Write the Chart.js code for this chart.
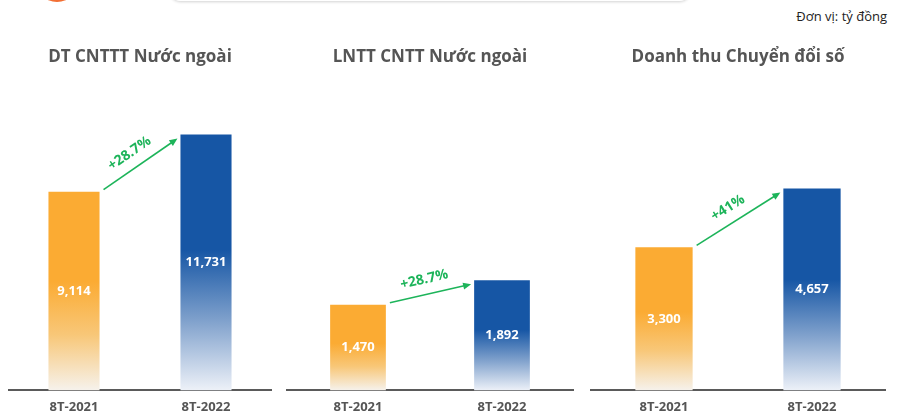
<!DOCTYPE html>
<html>
<head>
<meta charset="utf-8">
<script src="https://cdn.jsdelivr.net/npm/chart.js@4.4.0/dist/chart.umd.min.js"></script>
<style>
  body { margin: 0; background: #fff; width: 904px; height: 419px; overflow: hidden; position: relative; font-family: "Open Sans", sans-serif; }
  .panel { position: absolute; top: 0; height: 428px; }
  .unit { position: absolute; right: 17px; top: 7px; font-size: 13px; color: #222; }
  .dot { position: absolute; left: 35px; top: -42px; width: 44px; height: 44px; border-radius: 50%; background: #f26f34; }
  .card { position: absolute; left: 170px; top: -30px; width: 520px; height: 31px; border-radius: 10px; background: #fff; box-shadow: 0 1px 3px rgba(0,0,0,0.18); }
</style>
</head>
<body>
<div class="dot"></div>
<div class="card"></div>
<div class="unit">Đơn vị: tỷ đồng</div>
<div class="panel" style="left:8px;width:264px"><canvas id="c1"></canvas></div>
<div class="panel" style="left:286px;width:288px"><canvas id="c2"></canvas></div>
<div class="panel" style="left:590px;width:296px"><canvas id="c3"></canvas></div>
<script>
const categories = ['8T-2021', '8T-2022']
const titles = ['DT CNTTT Nước ngoài', 'LNTT CNTT Nước ngoài', 'Doanh thu Chuyển đổi số']
const revenueForeign = [9114, 11731]
const profitForeign = [1470, 1892]
const revenueDigital = [3300, 4657]
const growthLabels = ['+28.7%', '+28.7%', '+41%']
const axisMax = [13160, 4930, 6620]

const solid = ['#fbab33', '#1656a5']
const pale = ['#f6f2ec', '#edf1f8']
const green = '#1db45a'

function barFill(values) {
  return (c) => {
    const chart = c.chart
    const i = c.dataIndex
    if (!chart.chartArea || i === undefined) return solid[i || 0]
    const top = chart.scales.y.getPixelForValue(values[i])
    const bottom = chart.scales.y.getPixelForValue(0)
    const g = chart.ctx.createLinearGradient(0, top, 0, bottom)
    g.addColorStop(0, solid[i])
    g.addColorStop(0.45, solid[i])
    g.addColorStop(0.72, i ? '#7d9fcb' : '#f8c778')
    g.addColorStop(1, pale[i])
    return g
  }
}

const extras = {
  id: 'extras',
  afterDatasetsDraw(chart, args, opts) {
    const ctx = chart.ctx
    const bars = chart.getDatasetMeta(0).data
    const values = chart.data.datasets[0].data
    ctx.save()
    // value labels
    ctx.fillStyle = '#fff'
    ctx.font = 'bold 13px "Open Sans"'
    ctx.textAlign = 'center'
    ctx.textBaseline = 'middle'
    bars.forEach((b, i) => {
      ctx.fillText(values[i].toLocaleString('en-US'), b.x, (b.y + b.base) / 2)
    })
    // growth arrow
    const a = bars[0], b = bars[1]
    const x1 = a.x + a.width / 2 + 4, y1 = a.y - 2
    const x2 = b.x - b.width / 2 - 3, y2 = b.y + 4
    const ang = Math.atan2(y2 - y1, x2 - x1)
    ctx.strokeStyle = green
    ctx.fillStyle = green
    ctx.lineWidth = 1.6
    ctx.beginPath()
    ctx.moveTo(x1, y1)
    ctx.lineTo(x2 - 6 * Math.cos(ang), y2 - 6 * Math.sin(ang))
    ctx.stroke()
    ctx.beginPath()
    ctx.moveTo(x2, y2)
    ctx.lineTo(x2 - 8 * Math.cos(ang) + 3.5 * Math.sin(ang), y2 - 8 * Math.sin(ang) - 3.5 * Math.cos(ang))
    ctx.lineTo(x2 - 8 * Math.cos(ang) - 3.5 * Math.sin(ang), y2 - 8 * Math.sin(ang) + 3.5 * Math.cos(ang))
    ctx.closePath()
    ctx.fill()
    const mx = (x1 + x2) / 2 - 3 * Math.cos(ang) + 15 * Math.sin(ang)
    const my = (y1 + y2) / 2 - 3 * Math.sin(ang) - 15 * Math.cos(ang)
    ctx.translate(mx, my)
    ctx.rotate(ang)
    ctx.font = 'bold 14px "Open Sans"'
    ctx.fillText(opts.label, 0, 0)
    ctx.restore()
  }
}

function makeChart(id, values, k) {
  return new Chart(document.getElementById(id), {
    type: 'bar',
    data: {
      labels: categories,
      datasets: [{
        data: values,
        backgroundColor: barFill(values),
        barPercentage: 0.387,
        categoryPercentage: 1
      }]
    },
    options: {
      responsive: true,
      maintainAspectRatio: false,
      animation: false,
      layout: { padding: { left: 0, right: 0, top: 0, bottom: 4 } },
      plugins: {
        legend: { display: false },
        tooltip: { enabled: false },
        title: {
          display: true,
          text: titles[k],
          color: '#555',
          font: { family: 'Open Sans', size: 17, weight: 'bold' },
          padding: { top: 47, bottom: 36 }
        },
        extras: { label: growthLabels[k] }
      },
      scales: {
        x: {
          grid: { display: false, drawTicks: false, tickLength: 0 },
          border: { display: true, color: '#5a5a5a', width: 2 },
          ticks: { color: '#555', padding: 9, font: { family: 'Open Sans', size: 13, weight: 'bold' } }
        },
        y: { display: false, min: 0, max: axisMax[k] }
      }
    },
    plugins: [extras]
  })
}

makeChart('c1', revenueForeign, 0)
makeChart('c2', profitForeign, 1)
makeChart('c3', revenueDigital, 2)
</script>
</body>
</html>
